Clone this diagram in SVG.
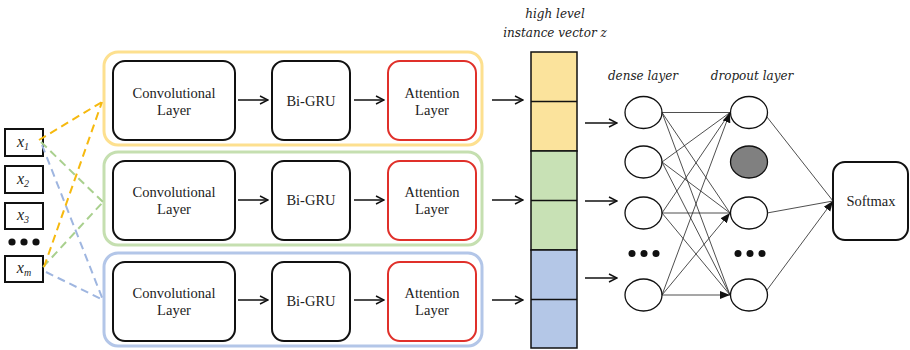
<svg xmlns="http://www.w3.org/2000/svg" width="910" height="350" viewBox="0 0 910 350">
<style>
  .lbl{font-family:'Liberation Serif','Times New Roman',serif;font-size:14.5px;fill:#222;text-anchor:middle}
  .it{font-family:'DejaVu Serif',serif;font-style:italic;font-size:12px;fill:#222;text-anchor:middle}
  .xi{font-family:'Liberation Serif','Times New Roman',serif;font-style:italic;font-size:16px;fill:#222;text-anchor:middle}
  .sub{font-size:10px}
  .inbox{fill:#fff;stroke:#111;stroke-width:2}
  .blk{fill:#fff;stroke:#111;stroke-width:2}
  .att{fill:#fff;stroke:#e0302a;stroke-width:2}
  .grp{fill:#fff;stroke-width:3}
  .arr{stroke:#111;stroke-width:1.5;fill:none;marker-end:url(#open)}
  .node{stroke:#111;stroke-width:1.3}
  .edge{stroke:#222;stroke-width:0.8;fill:none;marker-end:url(#solid)}
  .dash{stroke-width:2;fill:none;stroke-dasharray:8 5}
  .cell{stroke:#111;stroke-width:1.5}
</style>
<defs>
  <!-- open chevron head for the block-to-block arrows -->
  <marker id="open" viewBox="0 0 10 10" refX="9" refY="5" markerWidth="10" markerHeight="10" markerUnits="userSpaceOnUse" orient="auto">
    <path d="M1,1 L9,5 L1,9" fill="none" stroke="#111" stroke-width="1.4"/>
  </marker>
  <!-- filled head for the network edges -->
  <marker id="solid" viewBox="0 0 10 10" refX="10" refY="5" markerWidth="10" markerHeight="10" markerUnits="userSpaceOnUse" orient="auto">
    <path d="M0,1 L10,5 L0,9 Z" fill="#111"/>
  </marker>
</defs>

<!-- branch frames -->
<g id="branch-yellow">
  <rect class="grp" x="104" y="52" width="378" height="93" rx="14" stroke="#fde08f"/>
</g>
<g id="branch-green">
  <rect class="grp" x="104" y="152" width="378" height="93" rx="14" stroke="#c5dfb0"/>
</g>
<g id="branch-blue">
  <rect class="grp" x="104" y="253" width="378" height="93" rx="14" stroke="#b3c6e8"/>
</g>

<!-- inputs -->
<g id="x1"><rect class="inbox" x="5" y="129" width="38" height="27"/><text x="23" y="147" class="xi">x<tspan class="sub" dy="3">1</tspan></text></g>
<g id="x2"><rect class="inbox" x="5" y="166" width="38" height="27"/><text x="23" y="184" class="xi">x<tspan class="sub" dy="3">2</tspan></text></g>
<g id="x3"><rect class="inbox" x="5" y="203" width="38" height="26"/><text x="23" y="220" class="xi">x<tspan class="sub" dy="3">3</tspan></text></g>
<g id="input-dots" fill="#111"><circle cx="12" cy="242" r="3.6"/><circle cx="24" cy="242" r="3.6"/><circle cx="36" cy="242" r="3.6"/></g>
<g id="xm"><rect class="inbox" x="5" y="256" width="38" height="26"/><text x="24" y="273" class="xi">x<tspan class="sub" dy="3">m</tspan></text></g>

<!-- dashed input links -->
<g id="input-links">
  <path class="dash" stroke="#a9d08e" d="M41,142 L103,202 M43,267 L103,202"/>
  <path class="dash" stroke="#9fb6e0" d="M42,145 L103,300 M46,272 L103,300"/>
  <path class="dash" stroke="#f6b90f" d="M39,140 L102,102 M44,267 L102,102"/>
</g>

<!-- yellow branch blocks -->
<g id="conv-1"><rect class="blk" x="113" y="61" width="122" height="79" rx="12"/><text class="lbl" x="174" y="98">Convolutional</text><text class="lbl" x="174" y="115">Layer</text></g>
<g id="gru-1"><rect class="blk" x="272" y="61" width="78" height="79" rx="12"/><text class="lbl" x="311" y="106">Bi-GRU</text></g>
<g id="att-1"><rect class="att" x="388" y="61" width="88" height="79" rx="12"/><text class="lbl" x="432" y="98">Attention</text><text class="lbl" x="432" y="115">Layer</text></g>

<!-- green branch blocks -->
<g id="conv-2"><rect class="blk" x="113" y="161" width="122" height="79" rx="12"/><text class="lbl" x="174" y="197">Convolutional</text><text class="lbl" x="174" y="214">Layer</text></g>
<g id="gru-2"><rect class="blk" x="272" y="161" width="78" height="79" rx="12"/><text class="lbl" x="311" y="205">Bi-GRU</text></g>
<g id="att-2"><rect class="att" x="388" y="161" width="88" height="79" rx="12"/><text class="lbl" x="432" y="197">Attention</text><text class="lbl" x="432" y="214">Layer</text></g>

<!-- blue branch blocks -->
<g id="conv-3"><rect class="blk" x="113" y="262" width="122" height="79" rx="12"/><text class="lbl" x="174" y="298">Convolutional</text><text class="lbl" x="174" y="315">Layer</text></g>
<g id="gru-3"><rect class="blk" x="272" y="262" width="78" height="79" rx="12"/><text class="lbl" x="311" y="306">Bi-GRU</text></g>
<g id="att-3"><rect class="att" x="388" y="262" width="88" height="79" rx="12"/><text class="lbl" x="432" y="298">Attention</text><text class="lbl" x="432" y="315">Layer</text></g>

<!-- instance vector -->
<g id="vector">
  <text class="it" x="555" y="18">high level</text>
  <text class="it" x="555" y="37">instance vector z</text>
  <rect class="cell" x="531" y="52" width="46" height="99" fill="#fbe39c"/>
  <rect class="cell" x="531" y="151" width="46" height="99" fill="#c8e1b5"/>
  <rect class="cell" x="531" y="250" width="46" height="98" fill="#b4c7e7"/>
  <path class="cell" fill="none" d="M531,101.5 H577 M531,200.5 H577 M531,299.5 H577"/>
</g>

<!-- dense layer -->
<g id="dense">
  <text class="it" x="643" y="80">dense layer</text>
  <ellipse class="node" fill="#fff" cx="643.5" cy="112.5" rx="18.5" ry="16"/>
  <ellipse class="node" fill="#fff" cx="643.5" cy="162" rx="18.5" ry="16"/>
  <ellipse class="node" fill="#fff" cx="643.5" cy="213" rx="18.5" ry="16"/>
  <ellipse class="node" fill="#fff" cx="643.5" cy="295" rx="18.5" ry="16"/>
  <g fill="#111"><circle cx="632" cy="253.5" r="3.5"/><circle cx="644" cy="253.5" r="3.5"/><circle cx="656" cy="253.5" r="3.5"/></g>
</g>

<!-- dropout layer -->
<g id="dropout">
  <text class="it" x="752" y="80">dropout layer</text>
  <ellipse class="node" fill="#fff" cx="749" cy="112.5" rx="18.5" ry="16"/>
  <ellipse class="node" fill="#808080" cx="749" cy="162" rx="18.5" ry="16"/>
  <ellipse class="node" fill="#fff" cx="749" cy="213" rx="18.5" ry="16"/>
  <ellipse class="node" fill="#fff" cx="749" cy="295" rx="18.5" ry="16"/>
  <g fill="#111"><circle cx="738" cy="253.5" r="3.5"/><circle cx="750" cy="253.5" r="3.5"/><circle cx="762" cy="253.5" r="3.5"/></g>
</g>

<!-- output -->
<g id="softmax"><rect class="blk" x="833" y="162" width="75" height="78" rx="12"/><text class="lbl" x="871" y="206">Softmax</text></g>

<!-- connectors -->
<g id="connectors">
  <path class="arr" d="M238,100 H268"/>
  <path class="arr" d="M354,100 H384"/>
  <path class="arr" d="M238,200 H268"/>
  <path class="arr" d="M354,200 H384"/>
  <path class="arr" d="M238,300 H268"/>
  <path class="arr" d="M354,300 H384"/>
  <path class="arr" d="M492,100 H523"/>
  <path class="arr" d="M492,200 H523"/>
  <path class="arr" d="M492,300 H523"/>
  <path class="arr" d="M585,123 H617"/>
  <path class="arr" d="M585,201 H617"/>
  <path class="arr" d="M585,278 H617"/>
  <!-- dense to dropout -->
  <path class="edge" d="M662,112.5 L730,112.5 M662,162 L730,112.5 M662,213 L730,112.5 M662,295 L730,112.5"/>
  <path class="edge" d="M662,112.5 L730,213 M662,162 L730,213 M662,213 L730,213 M662,295 L730,213"/>
  <path class="edge" d="M662,112.5 L730,295 M662,162 L730,295 M662,213 L730,295 M662,295 L730,295"/>
  <!-- dropout to softmax -->
  <path class="edge" d="M767,117 L833,201 M767,213 L833,201 M767,290 L833,201"/>
</g>
</svg>
